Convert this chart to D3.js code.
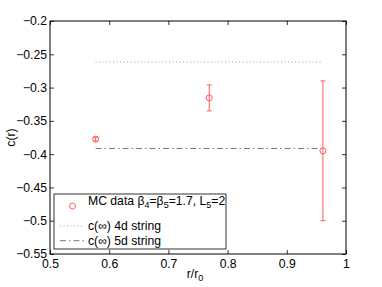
<!DOCTYPE html>
<html>
<head>
<meta charset="utf-8">
<script src="https://cdn.jsdelivr.net/npm/d3@7"></script>
<style>
  body { margin: 0; background: #fff; }
  text { font-family: "Liberation Sans", Arial, sans-serif; }
</style>
</head>
<body>
<div id="chart"></div>
<script>
// MC data points
var rValues = [0.577, 0.769, 0.961];
var cValues = [-0.3775, -0.3155, -0.395];
var cErrors = [0.003, 0.0195, 0.105];

// asymptotic string predictions
var lineNames = ["c(\u221e) 4d string", "c(\u221e) 5d string"];
var lineLevels = [-0.2615, -0.3915];
var lineRange = [0.577, 0.961];

var xTicks = [0.5, 0.6, 0.7, 0.8, 0.9, 1];
var yTicks = [-0.2, -0.25, -0.3, -0.35, -0.4, -0.45, -0.5, -0.55];

var width = 382, height = 287;
var margin = {left: 50, right: 36, top: 21, bottom: 33};
var fs = "12.2px", fsSub = "9px";

var svg = d3.select("#chart").append("svg")
  .attr("width", width)
  .attr("height", height);

var x = d3.scaleLinear().domain([0.5, 1]).range([margin.left, width - margin.right]);
var y = d3.scaleLinear().domain([-0.55, -0.2]).range([height - margin.bottom, margin.top]);

var red = "#ff5c5c";

// axes (ticks inward, box on)
var fmt = function(d) { return String(d).replace("-", "\u2212"); };
function styleAxis(g, hideText) {
  g.select(".domain").remove();
  g.selectAll("line").attr("stroke", "#000").attr("stroke-width", 0.8);
  g.selectAll("text").style("font-size", fs).attr("fill", "#000");
  if (hideText) g.selectAll("text").remove();
}
svg.append("g").attr("transform", "translate(0," + y.range()[0] + ")")
  .call(d3.axisBottom(x).tickValues(xTicks).tickSize(-4).tickPadding(5).tickFormat(fmt))
  .call(styleAxis, false);
svg.append("g").attr("transform", "translate(0," + y.range()[1] + ")")
  .call(d3.axisTop(x).tickValues(xTicks).tickSize(-4))
  .call(styleAxis, true);
svg.append("g").attr("transform", "translate(" + x.range()[0] + ",0)")
  .call(d3.axisLeft(y).tickValues(yTicks).tickSize(-4).tickPadding(3).tickFormat(fmt))
  .call(styleAxis, false);
svg.append("g").attr("transform", "translate(" + x.range()[1] + ",0)")
  .call(d3.axisRight(y).tickValues(yTicks).tickSize(-4))
  .call(styleAxis, true);

svg.append("rect")
  .attr("x", x.range()[0]).attr("y", y.range()[1])
  .attr("width", x.range()[1] - x.range()[0])
  .attr("height", y.range()[0] - y.range()[1])
  .attr("fill", "none").attr("stroke", "#000").attr("stroke-width", 1);

// reference lines
var dashes = ["1,2.5", "6,3,1.5,3"];
svg.selectAll(".ref").data(lineLevels).enter().append("line")
  .attr("class", "ref")
  .attr("x1", x(lineRange[0])).attr("x2", x(lineRange[1]))
  .attr("y1", function(d) { return y(d); })
  .attr("y2", function(d) { return y(d); })
  .attr("stroke", function(d, i) { return i === 0 ? "#888" : "#555"; })
  .attr("stroke-width", 0.8)
  .attr("stroke-dasharray", function(d, i) { return dashes[i]; });

// error bars
var pts = rValues.map(function(r, i) { return {r: r, c: cValues[i], e: cErrors[i]}; });
var eb = svg.selectAll(".eb").data(pts).enter().append("g").attr("class", "eb")
  .attr("stroke", red).attr("stroke-width", 1).attr("fill", "none");
eb.append("line")
  .attr("x1", function(d) { return x(d.r); }).attr("x2", function(d) { return x(d.r); })
  .attr("y1", function(d) { return y(d.c - d.e); }).attr("y2", function(d) { return y(d.c + d.e); });
eb.append("line")
  .attr("x1", function(d) { return x(d.r) - 2.5; }).attr("x2", function(d) { return x(d.r) + 2.5; })
  .attr("y1", function(d) { return y(d.c + d.e); }).attr("y2", function(d) { return y(d.c + d.e); });
eb.append("line")
  .attr("x1", function(d) { return x(d.r) - 2.5; }).attr("x2", function(d) { return x(d.r) + 2.5; })
  .attr("y1", function(d) { return y(d.c - d.e); }).attr("y2", function(d) { return y(d.c - d.e); });
eb.append("circle")
  .attr("cx", function(d) { return x(d.r); })
  .attr("cy", function(d) { return y(d.c); })
  .attr("r", 3);

// axis labels
svg.append("text")
  .attr("transform", "translate(15," + ((y.range()[0] + y.range()[1]) / 2) + ") rotate(-90)")
  .attr("text-anchor", "middle")
  .style("font-size", fs)
  .text("c(r)");
var xl = svg.append("text")
  .attr("x", 195)
  .attr("y", 278)
  .attr("text-anchor", "middle")
  .style("font-size", fs);
xl.append("tspan").text("r/r");
xl.append("tspan").attr("dy", 3).style("font-size", fsSub).text("0");

// legend
var lg = svg.append("g");
lg.append("rect")
  .attr("x", 54).attr("y", 194).attr("width", 172).attr("height", 55)
  .attr("fill", "#fff").attr("stroke", "#000").attr("stroke-width", 0.8);
lg.append("circle").attr("cx", 72.5).attr("cy", 206).attr("r", 3)
  .attr("fill", "none").attr("stroke", red).attr("stroke-width", 1);
var t1 = lg.append("text").attr("x", 88).attr("y", 205).style("font-size", fs);
t1.append("tspan").text("MC data \u03b2");
t1.append("tspan").attr("dy", 3).style("font-size", fsSub).text("4");
t1.append("tspan").attr("dy", -3).text("=\u03b2");
t1.append("tspan").attr("dy", 3).style("font-size", fsSub).text("5");
t1.append("tspan").attr("dy", -3).text("=1.7, L");
t1.append("tspan").attr("dy", 3).style("font-size", fsSub).text("5");
t1.append("tspan").attr("dy", -3).text("=2");

lineNames.forEach(function(name, i) {
  var ly = 226 + i * 14.7;
  lg.append("line").attr("x1", 60).attr("x2", 84).attr("y1", ly).attr("y2", ly)
    .attr("stroke", i === 0 ? "#888" : "#555").attr("stroke-width", 0.8)
    .attr("stroke-dasharray", dashes[i]);
  lg.append("text").attr("x", 88).attr("y", ly + 4).style("font-size", fs).text(name);
});
</script>
</body>
</html>
